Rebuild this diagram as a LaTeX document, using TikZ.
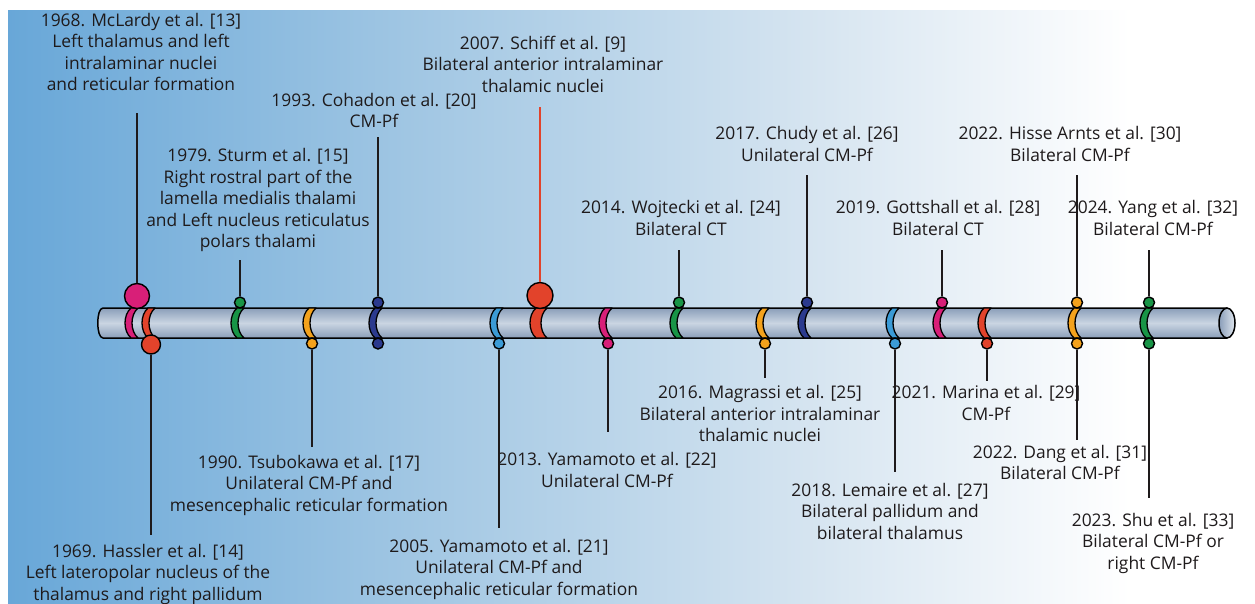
\documentclass[tikz,border=0pt]{standalone}
\usepackage{fontspec}
\setmainfont{Open Sans}
\definecolor{bgA}{HTML}{68A7D8}
\definecolor{bgB}{HTML}{A0C6E3}
\definecolor{bgC}{HTML}{D5E4F0}
\definecolor{tubeE}{HTML}{8A9EB9}
\definecolor{tubeM}{HTML}{CAD5E2}
\definecolor{mMag}{HTML}{D81F78}
\definecolor{mRed}{HTML}{E2432B}
\definecolor{mGrn}{HTML}{189446}
\definecolor{mOrg}{HTML}{F4A21C}
\definecolor{mNav}{HTML}{2B3A8E}
\definecolor{mLbl}{HTML}{3B9BD6}
\definecolor{txt}{HTML}{1E1A1B}
\pgfdeclarehorizontalshading{bgshade}{100bp}{color(0bp)=(bgA); color(25bp)=(bgA); color(41bp)=(bgB); color(57bp)=(bgC); color(70bp)=(white); color(100bp)=(white)}
\newcommand\labfont{\fontsize{17.4}{21.5}\selectfont}
\newcommand\mycres[4]{%
  \path[crescent, fill=#2] ({#1-#3},308) .. controls ({#1-#3-8},315) and ({#1-#3-8},331) .. ({#1-#3},338)
    -- ({#1-#3+#4},338) .. controls ({#1-#3+#4-8},331) and ({#1-#3+#4-8},315) .. ({#1-#3+#4},308) -- cycle;}
\begin{document}
\begin{tikzpicture}[x=1pt,y=-1pt,
  lab/.style={align=center, font=\labfont, inner sep=0pt, text=txt},
  dotnode/.style={circle, draw=black, line width=1.4pt, minimum size=11pt, inner sep=0pt},
  bigdot/.style={circle, draw=black, line width=1.4pt, inner sep=0pt},
  crescent/.style={draw=black, line width=1.3pt, line join=round},
  conn/.style={line width=1.8pt, draw=txt},
  redconn/.style={line width=2.8pt, draw=mRed}]
\useasboundingbox (0,0) rectangle (1255,603);
\fill[white] (0,0) rectangle (1255,603);
\shade[shading=bgshade] (8,10) rectangle (1255,603);

% tube
\shade[top color=tubeE, bottom color=tubeE, middle color=tubeM]
  (103,308) -- (1227,308) -- (1227,338) -- (103,338) .. controls (96,338) and (96,308) .. (103,308) -- cycle;
\draw[line width=1.5pt] (1227,308) -- (103,308) .. controls (96,308) and (96,338) .. (103,338) -- (1227,338);
\shadedraw[left color=tubeE, right color=tubeM!60!white, draw=black, line width=1.5pt] (1227,323) ellipse [x radius=8pt, y radius=15pt];

% crescents
\mycres{134}{mMag}{3}{7}
\mycres{151}{mRed}{3}{7}
\mycres{240}{mGrn}{3}{7}
\mycres{312}{mOrg}{3}{7}
\mycres{378}{mNav}{3}{7}
\mycres{499}{mLbl}{3}{7}
\mycres{540}{mRed}{4}{11}
\mycres{608}{mMag}{3}{7}
\mycres{679}{mGrn}{3}{7}
\mycres{765}{mOrg}{3}{7}
\mycres{807}{mNav}{3}{7}
\mycres{895}{mLbl}{3}{7}
\mycres{942}{mMag}{3}{7}
\mycres{987}{mRed}{3}{7}
\mycres{1077}{mOrg}{3}{7}
\mycres{1149}{mGrn}{3}{7}

% dots
\node[bigdot, fill=mMag, minimum size=25pt] (d1968) at (137,296) {};
\node[bigdot, fill=mRed, minimum size=19pt] (d1969) at (151,344.5) {};
\node[dotnode, fill=mGrn] (d1979) at (240,302.5) {};
\node[dotnode, fill=mOrg] (d1990) at (312,343.5) {};
\node[dotnode, fill=mNav] (d1993) at (378,302.5) {};
\node[dotnode, fill=mNav] (d1993b) at (378,343.5) {};
\node[dotnode, fill=mLbl] (d2005) at (499,343.5) {};
\node[bigdot, fill=mRed, minimum size=26pt] (d2007) at (540,295.5) {};
\node[dotnode, fill=mMag] (d2013) at (608,343.5) {};
\node[dotnode, fill=mGrn] (d2014) at (679,302.5) {};
\node[dotnode, fill=mOrg] (d2016) at (765,343.5) {};
\node[dotnode, fill=mNav] (d2017) at (807,302.5) {};
\node[dotnode, fill=mLbl] (d2018) at (895,343.5) {};
\node[dotnode, fill=mMag] (d2019) at (942,302.5) {};
\node[dotnode, fill=mRed] (d2021) at (987,343.5) {};
\node[dotnode, fill=mOrg] (d2022h) at (1077,302.5) {};
\node[dotnode, fill=mOrg] (d2022d) at (1077,343.5) {};
\node[dotnode, fill=mGrn] (d2024) at (1149,302.5) {};
\node[dotnode, fill=mGrn] (d2023) at (1149,343.5) {};

% line ends
\coordinate (c1968) at (137,113);
\coordinate (c1979) at (240,260);
\coordinate (c1993) at (378,137);
\coordinate (c2007) at (540,107);
\coordinate (c2014) at (679,250);
\coordinate (c2017) at (807,175);
\coordinate (c2019) at (942,250);
\coordinate (c2022h) at (1077,175);
\coordinate (c2024) at (1149,250);
\coordinate (c1969) at (151,535);
\coordinate (c1990) at (312,447);
\coordinate (c2005) at (499,528);
\coordinate (c2013) at (608,432);
\coordinate (c2016) at (765,378);
\coordinate (c2018) at (895,472);
\coordinate (c2021) at (987,381);
\coordinate (c2022d) at (1077,440);
\coordinate (c2023) at (1149,498);

\draw[conn] (d1968.north) -- (c1968);
\draw[conn] (d1979.north) -- (c1979);
\draw[conn] (d1993.north) -- (c1993);
\draw[redconn] (d2007.north) -- (c2007);
\draw[conn] (d2014.north) -- (c2014);
\draw[conn] (d2017.north) -- (c2017);
\draw[conn] (d2019.north) -- (c2019);
\draw[conn] (d2022h.north) -- (c2022h);
\draw[conn] (d2024.north) -- (c2024);
\draw[conn] (d1969.south) -- (c1969);
\draw[conn] (d1990.south) -- (c1990);
\draw[conn] (d2005.south) -- (c2005);
\draw[conn] (d2013.south) -- (c2013);
\draw[conn] (d2016.south) -- (c2016);
\draw[conn] (d2018.south) -- (c2018);
\draw[conn] (d2021.south) -- (c2021);
\draw[conn] (d2022d.south) -- (c2022d);
\draw[conn] (d2023.south) -- (c2023);

% top labels
\node[lab] (l1968) at (141,52) {1968. McLardy et al. [13]\\Left thalamus and left\\intralaminar nuclei\\and reticular formation};
\node[lab] (l1979) at (258,200) {1979. Sturm et al. [15]\\Right rostral part of the\\lamella medialis thalami\\and Left nucleus reticulatus\\polars thalami};
\node[lab] (l1993) at (374,110.5) {1993. Cohadon et al. [20]\\CM-Pf};
\node[lab] (l2007) at (543,64) {2007. Schiff et al. [9]\\Bilateral anterior intralaminar\\thalamic nuclei};
\node[lab] (l2014) at (681,218) {2014. Wojtecki et al. [24]\\Bilateral CT};
\node[lab] (l2017) at (807,144) {2017. Chudy et al. [26]\\Unilateral CM-Pf};
\node[lab] (l2019) at (938,218) {2019. Gottshall et al. [28]\\Bilateral CT};
\node[lab] (l2022h) at (1070,144) {2022. Hisse Arnts et al. [30]\\Bilateral CM-Pf};
\node[lab] (l2024) at (1153,218) {2024. Yang et al. [32]\\Bilateral CM-Pf};
% bottom labels
\node[lab] (l1969) at (148,574) {1969. Hassler et al. [14]\\Left lateropolar nucleus of the\\thalamus and right pallidum};
\node[lab] (l1990) at (309,485) {1990. Tsubokawa et al. [17]\\Unilateral CM-Pf and\\mesencephalic reticular formation};
\node[lab] (l2005) at (499,569) {2005. Yamamoto et al. [21]\\Unilateral CM-Pf and\\mesencephalic reticular formation};
\node[lab] (l2013) at (607,470) {2013. Yamamoto et al. [22]\\Unilateral CM-Pf};
\node[lab] (l2016) at (760,413.5) {2016. Magrassi et al. [25]\\Bilateral anterior intralaminar\\thalamic nuclei};
\node[lab] (l2018) at (890,511) {2018. Lemaire et al. [27]\\Bilateral pallidum and\\bilateral thalamus};
\node[lab] (l2021) at (986,403) {2021. Marina et al. [29]\\CM-Pf};
\node[lab] (l2022d) at (1060,462.5) {2022. Dang et al. [31]\\Bilateral CM-Pf};
\node[lab] (l2023) at (1153,543) {2023. Shu et al. [33]\\Bilateral CM-Pf or\\right CM-Pf};
\end{tikzpicture}
\end{document}
